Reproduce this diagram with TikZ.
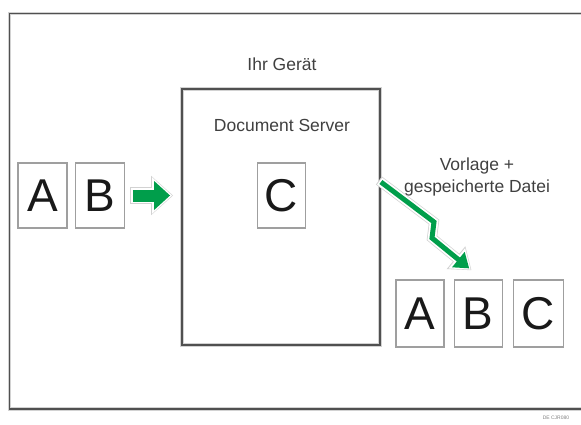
\documentclass[tikz,border=0pt]{standalone}
\usepackage{fontspec}
\setmainfont{Liberation Sans}
\usetikzlibrary{arrows.meta, positioning}
\definecolor{flowgreen}{RGB}{0,158,75}
\definecolor{framegray}{RGB}{80,80,80}
\definecolor{labelgray}{RGB}{64,64,64}

\begin{document}
\begin{tikzpicture}[
    x=1pt, y=-1pt,
    node distance=7pt,
    doc/.style={
        rectangle, draw=gray!75, line width=1.2pt,
        minimum width=48pt, minimum height=65pt, inner sep=0pt,
        font=\fontsize{46}{46}\selectfont, text=black!90
    },
    caption/.style={
        font=\fontsize{17.5}{22}\selectfont, text=labelgray,
        inner sep=0pt, align=center
    },
    device/.style={
        rectangle, draw=framegray, line width=1.8pt,
        minimum width=198pt, minimum height=256pt,
        preaction={draw=gray!35, line width=3.2pt}
    },
    feedarrow/.style={
        draw=flowgreen, line width=12pt, -{Triangle[length=16pt,width=28pt]},
        preaction={draw=gray!35, line width=17pt, shorten <=-2.5pt, shorten >=-3pt,
            -{Triangle[length=22pt,width=38pt]}},
        preaction={draw=white, line width=15pt, shorten <=-1.5pt, shorten >=-2pt,
            -{Triangle[length=20pt,width=35pt]}}
    },
    flash/.style={
        draw=flowgreen, line width=5pt, line join=miter,
        -{Triangle[length=14pt,width=19pt]},
        preaction={draw=gray!35, line width=10pt, line join=miter, shorten <=-2.5pt, shorten >=-3pt,
            -{Triangle[length=20pt,width=28pt]}},
        preaction={draw=white, line width=8.5pt, line join=miter, shorten <=-1.5pt, shorten >=-2pt,
            -{Triangle[length=18pt,width=25pt]}}
    }
]
\useasboundingbox (0,0) rectangle (581,424);

% Outer frame (open to the right)
\draw[framegray, line width=1.8pt, preaction={draw=gray!35, line width=3.5pt}]
    (582,13.5) -| (9.5,409) -- (582,409);

% Device with its document server
\node[device] (device) at (281,217) {};
\node[caption, anchor=base] (owner) at (282,70) {Ihr Gerät};
\node[caption, anchor=base] (dsname) at (282,131) {Document Server};
\node[doc] (storedC) at (281.5,195.5) {C};

% Incoming originals
\node[doc, minimum width=49pt] (inA) at (42.5,195.5) {A};
\node[doc, minimum width=49pt, right=of inA] (inB) {B};

% Printed output
\node[doc, minimum height=67pt] (outA) at (420,313.5) {A};
\node[doc, minimum height=67pt, right=9pt of outA] (outB) {B};
\node[doc, minimum width=50pt, minimum height=67pt, right=10pt of outB] (outC) {C};
\node[caption] (outlabel) at (477,177) {Vorlage +\\gespeicherte Datei};

% Arrows
\coordinate (bendA) at (434,222);
\coordinate (bendB) at (432,238);
\draw[feedarrow] ([xshift=8pt]inB.east) -- ([xshift=-11pt]device.west |- inB.east);
\draw[flash] ([yshift=35pt]device.east) -- (bendA) -- (bendB)
    -- ([xshift=-9pt,yshift=11pt]outB.north);

\node[font=\fontsize{5}{5}\selectfont, text=gray] (figcode) at (556,418) {DE CJR080};

\end{tikzpicture}
\end{document}
